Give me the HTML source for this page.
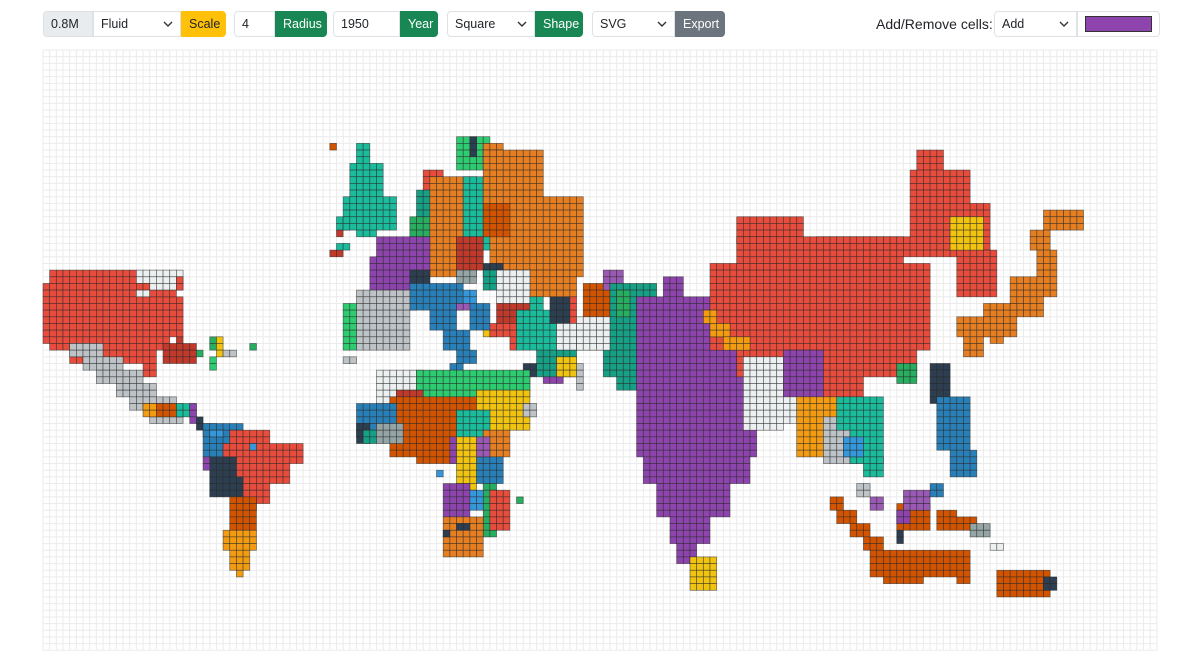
<!DOCTYPE html>
<html><head><meta charset="utf-8">
<style>
body{margin:0;width:1200px;height:658px;background:#fff;font-family:"Liberation Sans",sans-serif;font-size:12.5px;color:#212529;overflow:hidden;position:relative}
.tb{position:absolute;top:11px;height:26px;display:flex;align-items:center;box-sizing:border-box}
.b{height:26px;box-sizing:border-box;display:flex;align-items:center;padding:0 7px;border:1px solid #dee2e6;white-space:nowrap}
.sel{justify-content:space-between}
.g{background:#198754;color:#fff;border-color:#198754;border-radius:0 4px 4px 0}
.l{border-radius:4px 0 0 4px}
</style></head><body>
<div class="tb" style="left:43px">
 <div class="b l" style="width:50px;background:#e9ecef">0.8M</div>
 <div class="b sel" style="width:88px">Fluid<svg width="10" height="6"><path d="M1 1L5 5L9 1" stroke="#333" stroke-width="1.4" fill="none"/></svg></div>
 <div class="b" style="width:45px;background:#ffc107;border-color:#ffc107;border-radius:0 4px 4px 0">Scale</div>
</div>
<div class="tb" style="left:234px">
 <div class="b l" style="width:41px">4</div>
 <div class="b g" style="width:52px">Radius</div>
</div>
<div class="tb" style="left:333px">
 <div class="b l" style="width:67px">1950</div>
 <div class="b g" style="width:38px">Year</div>
</div>
<div class="tb" style="left:447px">
 <div class="b l sel" style="width:88px">Square<svg width="10" height="6"><path d="M1 1L5 5L9 1" stroke="#333" stroke-width="1.4" fill="none"/></svg></div>
 <div class="b g" style="width:48px">Shape</div>
</div>
<div class="tb" style="left:592px">
 <div class="b l sel" style="width:83px">SVG<svg width="10" height="6"><path d="M1 1L5 5L9 1" stroke="#333" stroke-width="1.4" fill="none"/></svg></div>
 <div class="b" style="width:50px;background:#6c757d;color:#fff;border-color:#6c757d;border-radius:0 4px 4px 0">Export</div>
</div>
<div class="tb" style="left:876px;font-size:14px">Add/Remove cells:</div>
<div class="tb" style="left:994px">
 <div class="b l sel" style="width:83px">Add<svg width="10" height="6"><path d="M1 1L5 5L9 1" stroke="#333" stroke-width="1.4" fill="none"/></svg></div>
 <div class="b" style="width:83px;border-radius:0 4px 4px 0;padding:0 7px"><div style="width:68px;height:16px;background:#8e44ad;border:1px solid #333;box-sizing:border-box"></div></div>
</div>
<svg id="map" width="1200" height="658" style="position:absolute;left:0;top:0;z-index:-1"></svg>
<script>
const COLS=167, ROWS=90, X0=43, Y0=50, CS=6.67;
const palette={R:"#e74c3c",O:"#e67e22",D:"#d35400",T:"#1abc9c",K:"#16a085",G:"#2ecc71",H:"#27ae60",B:"#2980b9",L:"#3498db",P:"#8e44ad",Q:"#9b59b6",Y:"#f1c40f",A:"#f39c12",S:"#bdc3c7",M:"#95a5a6",W:"#ecf0f1",N:"#2c3e50",C:"#c0392b"};
// regions: [col0,row0,col1,row1,colorKey]
const regions=[
// USA
[1,33,13,34,"R"],[14,33,20,35,"W"],[0,35,15,36,"R"],[20,34,20,35,"R"],[0,37,20,42,"R"],[14,36,15,36,"W"],[16,36,19,36,"R"],[1,43,18,44,"R"],[4,45,16,46,"R"],[15,47,16,48,"R"],[0,43,0,43,"R"],
// Mexico
[4,44,8,45,"S"],[6,46,11,47,"S"],[8,48,14,49,"S"],[11,50,16,51,"S"],[13,52,19,53,"S"],[16,54,20,55,"S"],[15,53,16,54,"A"],
[17,53,20,54,"D"],[20,53,22,54,"T"],[22,53,22,55,"P"],[23,55,23,56,"N"],[24,56,25,57,"K"],
// Caribbean
[18,44,22,46,"C"],[20,43,20,43,"C"],[25,46,25,47,"G"],[23,45,23,45,"H"],[25,43,25,44,"H"],[26,43,26,45,"Y"],[27,45,28,45,"S"],[31,44,31,44,"H"],
// South America
[24,56,29,60,"B"],[25,57,26,57,"L"],[28,57,33,58,"R"],[27,59,38,61,"R"],[28,62,36,64,"R"],[29,65,33,67,"R"],
[25,61,28,63,"N"],[25,64,29,66,"N"],[24,61,24,62,"P"],[30,67,31,68,"P"],[28,67,31,71,"D"],[27,72,31,74,"A"],[28,75,30,77,"A"],[29,78,29,78,"A"],[31,59,31,59,"L"],
// Iceland & islands
[43,14,43,14,"D"],[44,25,45,26,"T"],[44,27,44,27,"C"],[43,30,44,30,"C"],
// UK & Ireland
[47,14,48,16,"T"],[46,17,50,21,"T"],[45,22,52,26,"T"],[47,27,49,27,"T"],[44,29,45,29,"T"],
// Scandinavia etc
[62,13,66,17,"G"],[64,13,64,15,"N"],[66,14,68,16,"O"],[57,18,59,20,"R"],[56,21,60,26,"K"],[55,25,58,31,"H"],
[58,19,64,33,"O"],[63,19,68,27,"T"],[64,28,66,29,"T"],[66,15,74,22,"O"],[67,22,80,33,"O"],[66,23,69,27,"D"],[70,33,79,36,"O"],[71,37,73,37,"O"],
[62,28,65,32,"C"],[62,33,64,34,"M"],[66,32,68,33,"N"],[66,33,69,35,"K"],
// France
[50,28,57,36,"P"],[49,31,50,35,"P"],[52,37,55,38,"P"],[55,33,57,34,"N"],
// Central/Italy
[55,35,62,38,"B"],[58,39,61,41,"B"],[60,42,63,44,"B"],[62,45,64,46,"B"],[61,47,62,47,"B"],[64,38,66,41,"B"],[63,36,64,37,"L"],[62,38,63,38,"Q"],
// Spain/Portugal
[47,36,54,44,"S"],[45,38,46,44,"G"],[45,46,46,46,"S"],
// Balkans / Greece / Turkey
[68,33,72,37,"W"],[66,42,67,42,"Y"],[68,38,72,40,"C"],[67,41,71,42,"R"],[70,43,70,44,"R"],[71,39,78,44,"T"],[73,37,74,38,"T"],[76,37,78,40,"N"],[79,37,79,40,"R"],
// Middle east
[77,41,86,44,"W"],[81,35,85,40,"D"],[84,33,86,35,"Q"],[80,43,82,44,"Y"],[74,45,79,48,"K"],[77,46,79,48,"Y"],[75,49,77,49,"P"],[80,47,80,50,"S"],[72,47,73,48,"N"],
// Africa
[50,48,56,52,"W"],[56,48,72,51,"G"],[72,49,72,50,"G"],[53,51,56,52,"C"],[52,52,65,60,"D"],[65,51,72,56,"Y"],[72,53,73,54,"S"],
[47,53,52,57,"B"],[47,56,48,58,"N"],[48,57,49,58,"K"],[50,56,53,58,"M"],[62,54,66,57,"T"],[66,57,69,60,"O"],
[56,58,61,61,"D"],[61,58,63,61,"P"],[62,58,64,67,"Y"],[65,61,68,64,"B"],[65,58,66,60,"Q"],[60,65,63,69,"P"],[66,65,67,72,"H"],[64,66,65,68,"L"],
[60,70,65,75,"O"],[62,71,63,71,"N"],[60,72,60,72,"N"],[67,66,69,71,"R"],[71,67,71,67,"H"],[59,63,59,63,"L"],
// Pakistan/Iran region
[85,35,91,40,"K"],[84,41,89,48,"K"],[86,49,88,50,"K"],[86,36,87,39,"H"],[80,40,84,44,"W"],
// India
[93,34,95,36,"P"],[89,37,106,60,"P"],[90,61,105,64,"P"],[92,65,102,69,"P"],[94,70,99,73,"P"],[95,74,97,76,"P"],[97,76,100,80,"Y"],
// China
[131,15,134,17,"R"],[130,18,138,22,"R"],[130,23,141,27,"R"],[104,25,113,28,"R"],[116,28,141,30,"R"],[104,28,128,32,"R"],[100,32,132,44,"R"],[104,45,130,48,"R"],[110,49,122,52,"R"],[137,30,142,36,"R"],
[136,25,140,29,"Y"],[99,39,100,40,"A"],[100,41,102,42,"A"],[102,43,105,44,"A"],
// Bangladesh/Burma/SE Asia
[105,46,110,56,"W"],[111,45,116,51,"P"],[111,52,112,55,"W"],[113,52,118,60,"A"],[117,55,122,61,"S"],[119,52,125,56,"T"],[121,57,125,61,"T"],[120,58,122,60,"L"],[123,61,125,63,"T"],
[128,47,130,49,"H"],[133,47,135,52,"N"],[134,52,138,59,"B"],[136,60,139,63,"B"],
// Japan
[150,24,155,26,"O"],[148,27,150,29,"O"],[149,30,151,36,"O"],[145,34,149,39,"O"],[141,38,145,42,"O"],[137,40,141,42,"O"],[138,43,140,45,"O"],[142,43,143,43,"O"],
// Indonesia
[118,67,119,68,"D"],[119,69,121,70,"D"],[121,71,123,72,"D"],[123,73,125,74,"D"],[124,75,138,78,"D"],[126,79,131,79,"D"],[137,79,138,79,"D"],
[128,68,132,71,"D"],[129,66,132,68,"Q"],[128,69,129,70,"P"],[134,69,136,71,"D"],[137,70,139,71,"D"],[139,71,141,72,"M"],[133,65,134,66,"B"],[128,72,128,73,"N"],
[122,65,123,66,"S"],[124,67,125,68,"Q"],[142,74,143,74,"W"],
// PNG
[143,78,150,81,"D"],[150,79,151,80,"N"]
];
const svg=document.getElementById('map');
const NS="http://www.w3.org/2000/svg";
const grid=document.createElementNS(NS,'g');


let gp="";
for(let c=0;c<=COLS;c++){const x=X0+c*CS;gp+=`M${x} ${Y0}V${Y0+ROWS*CS}`;}
for(let r=0;r<=ROWS;r++){const y=Y0+r*CS;gp+=`M${X0} ${y}H${X0+COLS*CS}`;}
const p=document.createElementNS(NS,'path');p.setAttribute('d',gp);p.setAttribute('stroke','#ebebeb');p.setAttribute('stroke-width','1');p.setAttribute('fill','none');
grid.appendChild(p);svg.appendChild(grid);
const cellsG=document.createElementNS(NS,'g');


svg.appendChild(cellsG);
regions.forEach(function(rg){
 for(let r=rg[1];r<=rg[3];r++)for(let c=rg[0];c<=rg[2];c++){
  const el=document.createElementNS(NS,'rect');
  el.setAttribute('x',X0+c*CS);el.setAttribute('y',Y0+r*CS);
  el.setAttribute('width',CS);el.setAttribute('height',CS);
  el.setAttribute('fill',palette[rg[4]]);el.setAttribute('stroke','rgba(40,40,40,0.65)');el.setAttribute('stroke-width','0.7');
  
  
  cellsG.appendChild(el);
 }
});
</script>
</body></html>
